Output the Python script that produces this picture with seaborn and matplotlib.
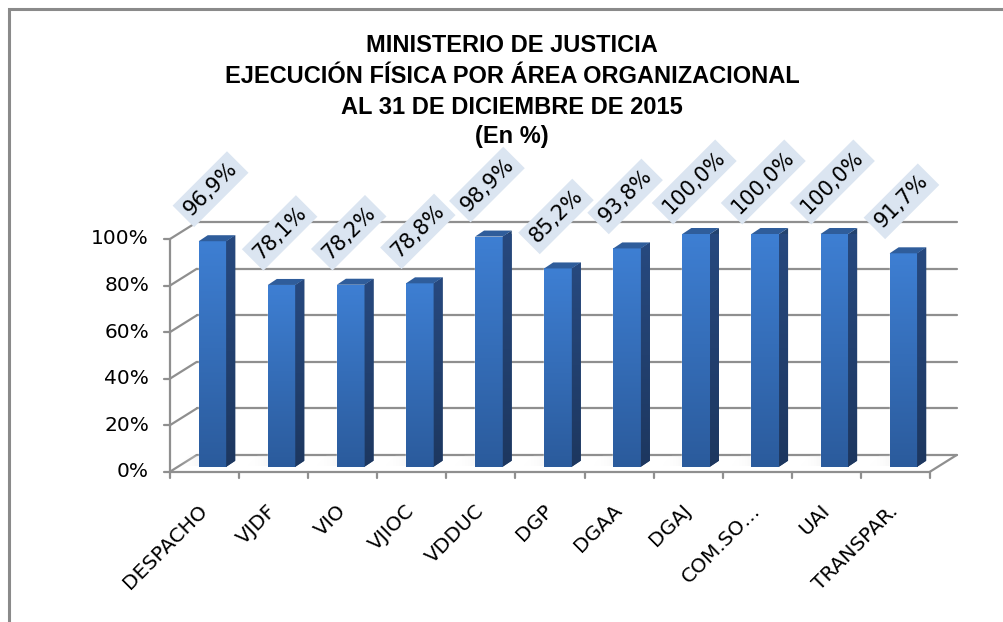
import matplotlib
matplotlib.use("Agg")
import matplotlib.pyplot as plt
import seaborn as sns
import numpy as np
import pandas as pd
from matplotlib.patches import Polygon, Rectangle
from matplotlib.lines import Line2D
from matplotlib.colors import LinearSegmentedColormap

# ---------------- data ----------------
categories = ["DESPACHO", "VJDF", "VIO", "VJIOC", "VDDUC", "DGP", "DGAA",
              "DGAJ", "COM.SO…", "UAI", "TRANSPAR."]
values = [96.9, 78.1, 78.2, 78.8, 98.9, 85.2, 93.8, 100.0, 100.0, 100.0, 91.7]
value_labels = ["96,9%", "78,1%", "78,2%", "78,8%", "98,9%", "85,2%",
                "93,8%", "100,0%", "100,0%", "100,0%", "91,7%"]
yticks = [0, 20, 40, 60, 80, 100]
ytick_labels = ["0%", "20%", "40%", "60%", "80%", "100%"]
title_lines = ["MINISTERIO DE JUSTICIA",
               "EJECUCIÓN FÍSICA POR ÁREA ORGANIZACIONAL",
               "AL 31 DE DICIEMBRE DE 2015",
               "(En %)"]

df = pd.DataFrame({"area": categories, "pct": values})

# ---------------- figure ----------------
W, H = 1004, 622
sns.set_style("white")
plt.rcParams["font.family"] = ["DejaVu Sans"]
fig = plt.figure(figsize=(W / 100, H / 100), dpi=100)
fig.patch.set_facecolor("white")

# plot plane (where bar fronts stand)
L, R, B, T = 178, 938, 466.7, 234.0
ax = fig.add_axes([L / W, (H - B) / H, (R - L) / W, (B - T) / H])
n = len(categories)
XPU = (R - L) / n          # pixels per x unit
YPU = (B - T) / 100.0      # pixels per y unit

sns.barplot(data=df, x="area", y="pct", color="#3670bf", saturation=1,
            width=0.4, ax=ax, zorder=3)
ax.set_xlim(-0.5, n - 0.5)
ax.set_ylim(0, 100)
ax.axis("off")

# depth offsets (pixels -> data units)
fx, fy = -8 / XPU, -5 / YPU       # front plane
bx, by = 18.7 / XPU, 11.7 / YPU   # back plane
grid_col = "#8f8f8f"
glw = 1.6

# back wall gridlines + left wall diagonals
for t in yticks:
    ax.add_line(Line2D([-0.5 + bx, n - 0.5 + bx], [t + by, t + by],
                       color=grid_col, lw=glw, clip_on=False, zorder=1))
    ax.add_line(Line2D([-0.5 + fx, -0.5 + bx], [t + fy, t + by],
                       color=grid_col, lw=glw, clip_on=False, zorder=1))
    ax.add_line(Line2D([-0.5 + fx - 6 / XPU, -0.5 + fx], [t + fy, t + fy],
                       color=grid_col, lw=glw, clip_on=False, zorder=1))
for t, lab in zip(yticks, ytick_labels):
    ax.text(-0.5 + fx - 21 / XPU, t + fy, lab, ha="right", va="center",
            fontsize=14.5, color="#000000", clip_on=False)

# front y axis
ax.add_line(Line2D([-0.5 + fx, -0.5 + fx], [fy, 100 + fy],
                   color=grid_col, lw=glw, clip_on=False, zorder=1))
# floor front edge & right diagonal
ax.add_line(Line2D([-0.5 + fx, n - 0.5 + fx], [fy, fy],
                   color=grid_col, lw=glw, clip_on=False, zorder=2))
ax.add_line(Line2D([n - 0.5 + fx, n - 0.5 + bx], [fy, by],
                   color=grid_col, lw=glw, clip_on=False, zorder=2))
# x ticks
for k in range(n + 1):
    xk = k - 0.5 + fx
    ax.add_line(Line2D([xk, xk], [fy, fy - 6 / YPU], color=grid_col,
                       lw=glw, clip_on=False, zorder=2))

# soft floor shadows behind bars
shadow_cmap = LinearSegmentedColormap.from_list(
    "sh", [(1, 1, 1, 0), (0.78, 0.78, 0.78, 0.9)])
hgrad = np.linspace(0, 1, 64).reshape(1, -1)
bars = list(ax.patches[:n])
for p in bars:
    x0, w = p.get_x(), p.get_width()
    sh = Polygon([(x0 - 0.3, 0.3), (x0 + w, 0.3),
                  (x0 + w + 0.1, 4.8), (x0 - 0.15, 4.8)],
                 closed=True, fc="none", ec="none", clip_on=False, zorder=2)
    ax.add_patch(sh)
    ims = ax.imshow(hgrad, extent=[x0 - 0.3, x0 + w + 0.1, 0.3, 4.8],
                    aspect="auto", cmap=shadow_cmap, zorder=2.1)
    ims.set_clip_path(sh)

# 3D bar faces with gradients
front_cmap = LinearSegmentedColormap.from_list("f", ["#2b5b9c", "#3e7fd3"])
side_cmap = LinearSegmentedColormap.from_list("s", ["#1d375f", "#27497f"])
grad = np.linspace(0, 1, 256).reshape(-1, 1)
sdx, sdy = 9 / XPU, 6 / YPU
for p in bars:
    x0, w, h = p.get_x(), p.get_width(), p.get_height()
    x1 = x0 + w
    im = ax.imshow(grad, extent=[x0, x1, 0, h], origin="lower",
                   aspect="auto", cmap=front_cmap, zorder=3.1)
    im.set_clip_path(p)
    side = Polygon([(x1, 0), (x1, h), (x1 + sdx, h + sdy), (x1 + sdx, sdy)],
                   closed=True, fc="#23436f", ec="none", clip_on=False,
                   zorder=3.2)
    ax.add_patch(side)
    im2 = ax.imshow(grad, extent=[x1, x1 + sdx, 0, h + sdy], origin="lower",
                    aspect="auto", cmap=side_cmap, zorder=3.3)
    im2.set_clip_path(side)
    top = Polygon([(x0, h), (x1, h), (x1 + sdx, h + sdy), (x0 + sdx, h + sdy)],
                  closed=True, fc="#2f5d9b", ec="none", clip_on=False,
                  zorder=3.4)
    ax.add_patch(top)

ax.set_xlim(-0.5, n - 0.5)
ax.set_ylim(0, 100)

# value labels
for i, (v, lab) in enumerate(zip(values, value_labels)):
    ax.annotate(lab, xy=(i, v), xytext=(-2, 52), textcoords="offset pixels",
                ha="center", va="center", rotation=45, fontsize=15,
                color="#000000", annotation_clip=False, zorder=6,
                bbox=dict(boxstyle="square,pad=0.25", fc="#dbe5f1", ec="none"))

# category labels
for i, c in enumerate(categories):
    ax.annotate(c, xy=(i + fx, fy), xytext=(0, -36),
                textcoords="offset pixels", ha="right", va="center",
                rotation=45, rotation_mode="anchor", fontsize=14.5,
                color="#000000", annotation_clip=False)

# title
for j, line in enumerate(title_lines):
    yc = [46, 76.5, 107, 137][j]
    fig.text(512 / W, 1 - yc / H, line, ha="center", va="center",
             fontsize=17, fontweight="bold", family=["Liberation Sans"],
             color="#000000")

# outer frame
fig.add_artist(Rectangle((9 / W, -0.05), 1.2, 1 - 9 / H + 0.05,
                         transform=fig.transFigure, fill=False,
                         ec="#8a8a8a", lw=2.2))

fig.savefig("out.png", dpi=100, facecolor="white")
